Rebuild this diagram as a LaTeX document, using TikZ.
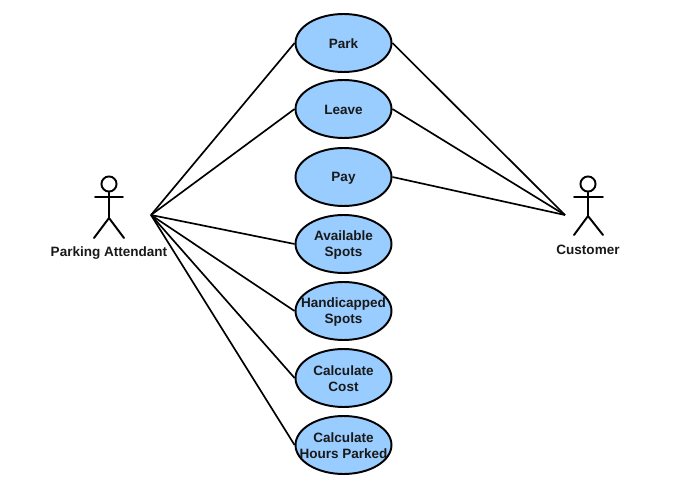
\documentclass[tikz,border=0pt]{standalone}
\usepackage{fontspec}
\setmainfont{Liberation Sans}
\usetikzlibrary{shapes.geometric}
\definecolor{casefill}{RGB}{153,204,255}
\tikzset{
  usecase/.style={draw=black,fill=casefill,ellipse,line width=1.1pt,inner sep=0pt,minimum width=54.6pt,minimum height=33pt},
  caselabel/.style={align=center,inner sep=0pt,font=\fontsize{7.7}{9.2}\selectfont\bfseries,text=black!90},
  actorhead/.style={draw=black,circle,line width=1.1pt,inner sep=0pt,minimum size=8.6pt},
  limb/.style={line width=1.1pt,line cap=round},
  assoc/.style={line width=0.95pt}
}
\begin{document}
\begin{tikzpicture}[x=0.02cm,y=-0.02cm]
  \useasboundingbox (0,0) rectangle (700,503);
  \coordinate (from a) at (151,215);
  \coordinate (from c) at (565,215);
  % use cases
  \foreach \nm/\y/\lbl in {park/43/Park,leave/109/Leave,pay/177/Pay,avail/244/{Available\\Spots},hand/311/{Handicapped\\Spots},cost/378/{Calculate\\Cost},hours/445/{Calculate\\Hours Parked}}{
    \node[usecase] (\nm) at (343.5,\y) {};
    \node[caselabel,yshift=-0.6pt] (\nm text) at (343.5,\y) {\lbl};
  }
  % parking attendant
  \node[actorhead] (head a) at (109,184) {};
  \coordinate (hip a) at (109,218);
  \coordinate (arm al) at (95,197);
  \coordinate (arm ar) at (123,197);
  \coordinate (foot al) at (94,238);
  \coordinate (foot ar) at (124,238);
  \draw[limb] (head a) -- (hip a);
  \draw[limb] (arm al) -- (arm ar);
  \draw[limb] (foot al) -- (hip a) -- (foot ar);
  \node[caselabel] (attendant) at (109,253) {Parking Attendant};
  % customer
  \node[actorhead] (head c) at (588,184) {};
  \coordinate (hip c) at (588,216);
  \coordinate (arm cl) at (574,197);
  \coordinate (arm cr) at (603,197);
  \coordinate (foot cl) at (574,235);
  \coordinate (foot cr) at (603,235);
  \draw[limb] (head c) -- (hip c);
  \draw[limb] (arm cl) -- (arm cr);
  \draw[limb] (foot cl) -- (hip c) -- (foot cr);
  \node[caselabel] (customer) at (588,250) {Customer};
  % associations
  \foreach \nm in {park,leave,avail,hand,cost,hours}
    \draw[assoc] (from a) -- (\nm.west);
  \foreach \nm in {park,leave,pay}
    \draw[assoc] (from c) -- (\nm.east);
\end{tikzpicture}
\end{document}
